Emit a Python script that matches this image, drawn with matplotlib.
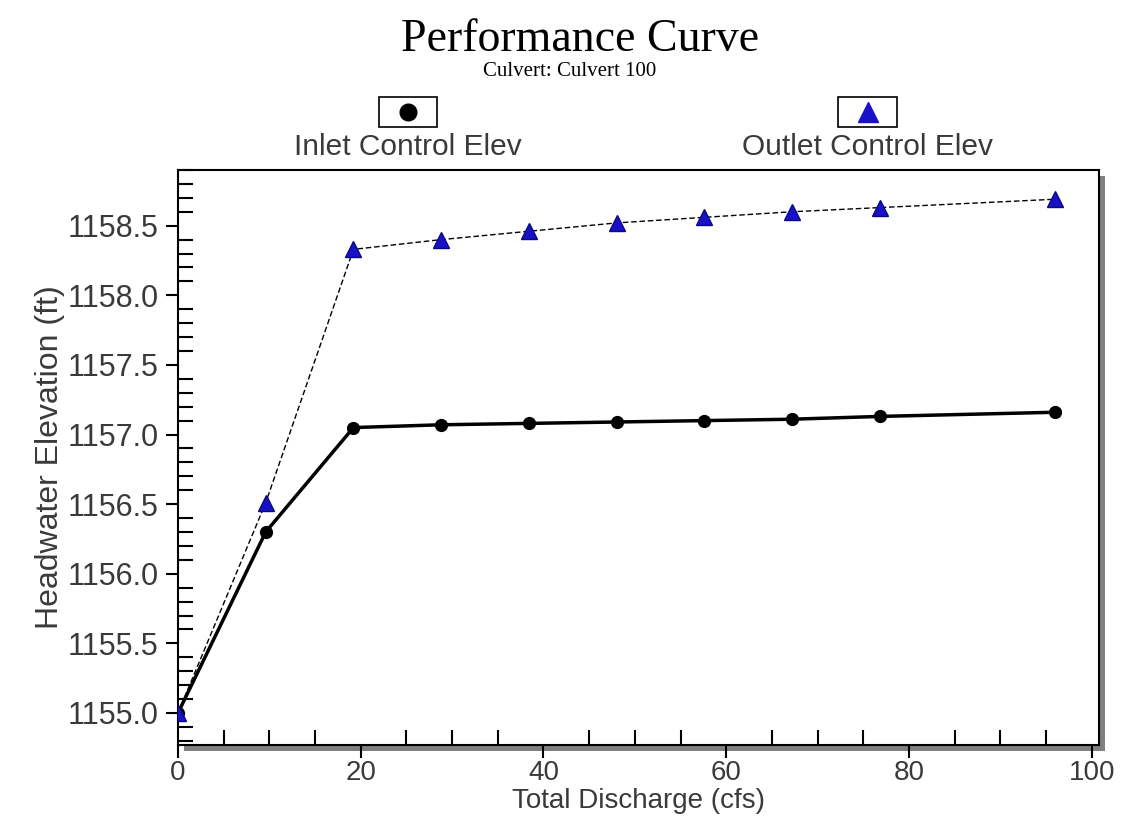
import matplotlib
matplotlib.use("Agg")
import matplotlib.pyplot as plt
import matplotlib.transforms as mtransforms
from matplotlib.ticker import MultipleLocator, FormatStrFormatter
from matplotlib.lines import Line2D

# discharge (cfs)
discharge = [0.0, 9.6, 19.2, 28.8, 38.4, 48.0, 57.6, 67.2, 76.8, 96.0]
# headwater elevations (ft)
inlet_elev = [1155.00, 1156.30, 1157.05, 1157.07, 1157.08, 1157.09, 1157.10, 1157.11, 1157.13, 1157.16]
outlet_elev = [1155.00, 1156.51, 1158.33, 1158.40, 1158.46, 1158.52, 1158.56, 1158.60, 1158.63, 1158.69]

title = "Performance Curve"
subtitle = "Culvert: Culvert 100"
series_names = ["Inlet Control Elev", "Outlet Control Elev"]

fig = plt.figure(figsize=(11.27, 8.18), dpi=100)
ax = fig.add_axes([178/1127, 1-745/818, (1099-178)/1127, (745-170)/818])

# drop shadow behind the plot box
shadow = plt.Rectangle((0, 0), 1, 1, facecolor="#808080", edgecolor="none", zorder=-1)
shadow.set_transform(ax.transAxes + mtransforms.ScaledTranslation(6/100, -6/100, fig.dpi_scale_trans))
fig.add_artist(shadow)
ax.set_facecolor("white")

ax.plot(discharge, inlet_elev, color="black", lw=2.5, marker="o", ms=8.5,
        mfc="black", mec="black", zorder=3)
ax.plot(discharge, outlet_elev, color="black", lw=1.0, ls=(0, (4, 2)), zorder=3)
ax.plot(discharge, outlet_elev, ls="none", marker="^", ms=11, mfc="#1a10c8",
        mec="#0a0a80", zorder=4)

ax.set_xlim(0, 100.8)
ax.set_ylim(1154.77, 1158.9)
ax.xaxis.set_major_locator(MultipleLocator(20))
ax.xaxis.set_minor_locator(MultipleLocator(5))
ax.yaxis.set_major_locator(MultipleLocator(0.5))
ax.yaxis.set_minor_locator(MultipleLocator(0.1))
ax.yaxis.set_major_formatter(FormatStrFormatter("%.1f"))
ax.tick_params(axis="both", which="major", direction="out", length=9, width=1.5, labelsize=22,
               labelcolor="#3a3a3a", pad=5)
ax.tick_params(axis="x", which="major", labelsize=20, pad=2)
ax.tick_params(axis="both", which="minor", direction="in", length=11, width=1.5)
for lab in ax.get_xticklabels() + ax.get_yticklabels():
    lab.set_fontfamily("Liberation Sans")
for s in ax.spines.values():
    s.set_linewidth(1.5)

ax.set_xlabel("Total Discharge (cfs)", fontsize=20, color="#3a3a3a", labelpad=1, family="Liberation Sans")
ax.set_ylabel("Headwater Elevation (ft)", fontsize=23, color="#3a3a3a", labelpad=2, family="Liberation Sans")

fig.text(0.515, 0.951, title, ha="center", va="center", fontsize=33, family="Liberation Serif")
fig.text(0.505, 0.912, subtitle, ha="center", va="center", fontsize=15, family="Liberation Serif")

# legend: marker boxes above labels
for x0, name, mk, fc, ms in [(0.362, series_names[0], "o", "black", 12),
                             (0.770, series_names[1], "^", "#1a10c8", 15)]:
    fig.patches.append(plt.Rectangle((x0 - 0.026, 0.845), 0.052, 0.036, transform=fig.transFigure,
                                     facecolor="white", edgecolor="black", lw=1.2))
    fig.add_artist(Line2D([x0], [0.863], marker=mk, ms=ms, mfc=fc, mec=fc, ls="none",
                          transform=fig.transFigure))
    fig.text(x0, 0.82, name, ha="center", va="center", fontsize=21.5, color="#3a3a3a",
             family="Liberation Sans")

fig.savefig("out.png", dpi=100)
